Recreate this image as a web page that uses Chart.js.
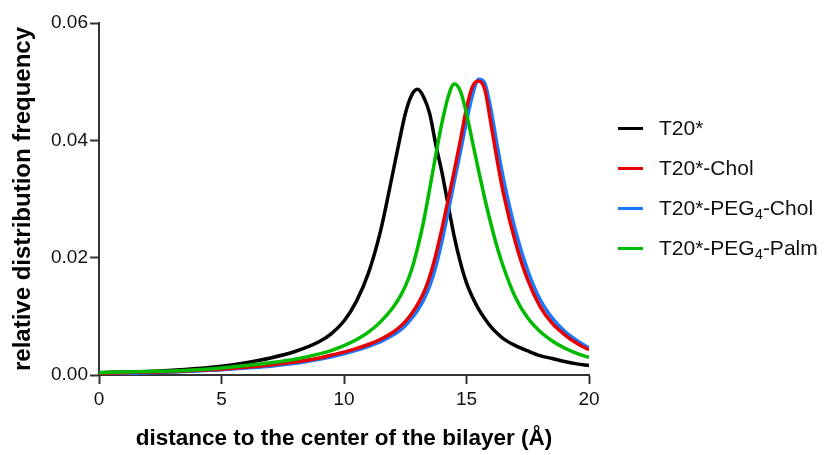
<!DOCTYPE html>
<html>
<head>
<meta charset="utf-8">
<script src="https://cdn.jsdelivr.net/npm/chart.js@4.4.1/dist/chart.umd.min.js"></script>
<style>
    body { margin: 0; background: #fff; }
    #wrap { position: relative; width: 827px; height: 455px; }
    #legend { position: absolute; left: 618px; top: 0; font-family: Arial, "Liberation Sans", sans-serif; font-size: 21px; color: #111; }
    .item { position: absolute; left: 0; height: 24px; white-space: nowrap; }
    .swatch { position: absolute; left: 0; top: 11px; width: 25px; height: 3px; }
    .label { position: absolute; left: 41px; top: 0; line-height: 24px; }
    .label sub { font-size: 0.7em; vertical-align: -0.3em; line-height: 0; }
</style>
</head>
<body>
<div id="wrap">
    <canvas id="chartCanvas" width="827" height="455"></canvas>
    <div id="legend"></div>
</div>
<script>
// distance from bilayer center (Å), shared by all four profiles
const distance = [0, 1, 2, 3, 4, 5, 6, 7, 8, 9, 9.5, 10, 10.5, 11, 11.5, 12,
    12.25, 12.5, 12.75, 13, 13.25, 13.5, 13.75, 14, 14.25, 14.5, 14.75, 15,
    15.25, 15.5, 15.75, 16, 16.25, 16.5, 17, 17.5, 18, 18.5, 19, 19.5, 20];

const t20 = [0.0004, 0.0005, 0.0006, 0.0008, 0.0011, 0.0015, 0.0021, 0.0029, 0.0040, 0.0057,
    0.0071, 0.0092, 0.0125, 0.0174, 0.0247, 0.0346,
    0.0397, 0.0445, 0.0476, 0.0487, 0.0474, 0.0445, 0.0392, 0.0345, 0.0290, 0.0236, 0.0192, 0.0157,
    0.0132, 0.0112, 0.0096, 0.0082, 0.0071, 0.0062, 0.0050, 0.0041, 0.0033, 0.0028, 0.0023, 0.0019, 0.0016];

const t20Chol = [0.0003, 0.0004, 0.0005, 0.0006, 0.0008, 0.0010, 0.0013, 0.0017, 0.0022, 0.0029,
    0.0034, 0.0039, 0.0045, 0.0052, 0.0061, 0.0073,
    0.0081, 0.0091, 0.0104, 0.0120, 0.0140, 0.0168, 0.0205, 0.0250, 0.0298, 0.0348, 0.0400, 0.0455,
    0.0492, 0.0501, 0.0486, 0.0428, 0.0366, 0.0311, 0.0226, 0.0162, 0.0117, 0.0088, 0.0069, 0.0054, 0.0043];

const t20PegChol = [0.0003, 0.0003, 0.0004, 0.0005, 0.0007, 0.0009, 0.0012, 0.0015, 0.0020, 0.0027,
    0.0031, 0.0036, 0.0042, 0.0049, 0.0057, 0.0068,
    0.0075, 0.0084, 0.0096, 0.0110, 0.0128, 0.0152, 0.0185, 0.0228, 0.0278, 0.0330, 0.0380, 0.0432,
    0.0478, 0.0504, 0.0497, 0.0452, 0.0392, 0.0336, 0.0246, 0.0178, 0.0129, 0.0097, 0.0075, 0.0059, 0.0046];

const t20PegPalm = [0.0004, 0.0005, 0.0006, 0.0007, 0.0009, 0.0012, 0.0016, 0.0021, 0.0027, 0.0036,
    0.0042, 0.0050, 0.0060, 0.0073, 0.0091, 0.0115,
    0.0131, 0.0151, 0.0178, 0.0216, 0.0262, 0.0318, 0.0376, 0.0430, 0.0474, 0.0496, 0.0484, 0.0446,
    0.0396, 0.0347, 0.0300, 0.0257, 0.0218, 0.0185, 0.0132, 0.0097, 0.0074, 0.0058, 0.0046, 0.0037, 0.0030];

const seriesNames = ['T20*', 'T20*-Chol', 'T20*-PEG4-Chol', 'T20*-PEG4-Palm'];
const seriesColors = ['#000000', '#e60000', '#1a78ff', '#00bb00'];
const seriesValues = [t20, t20Chol, t20PegChol, t20PegPalm];
// green on top, black at the back
const drawOrder = [3, 1, 2, 0];

const xTicks = [0, 5, 10, 15, 20];
const yTicks = [0, 0.02, 0.04, 0.06];

const fontFamily = 'Arial, "Liberation Sans", sans-serif';
const axisColor = '#333';

const datasets = seriesValues.map((values, i) => ({
    label: seriesNames[i],
    data: distance.map((d, j) => ({ x: d, y: values[j] })),
    borderColor: seriesColors[i],
    borderWidth: 3.5,
    pointRadius: 0,
    fill: false,
    cubicInterpolationMode: 'monotone',
    order: drawOrder[i]
}));

const ctx = document.getElementById('chartCanvas').getContext('2d');

const chart = new Chart(ctx, {
    type: 'line',
    data: { datasets },
    options: {
        responsive: false,
        animation: false,
        devicePixelRatio: 1,
        layout: { padding: { top: 23, right: 238, left: 0, bottom: 0 } },
        plugins: {
            legend: { display: false },
            tooltip: { enabled: false }
        },
        scales: {
            x: {
                type: 'linear',
                min: 0,
                max: 20,
                afterBuildTicks: (scale) => { scale.ticks = xTicks.map(v => ({ value: v })); },
                afterFit: (scale) => { scale.height = 80; },
                border: { color: axisColor, width: 2 },
                grid: { drawOnChartArea: false, tickLength: 9, tickColor: axisColor, tickWidth: 2 },
                ticks: { color: '#111', padding: 4, maxRotation: 0, font: { family: fontFamily, size: 19 } },
                title: {
                    display: true,
                    text: 'distance to the center of the bilayer (Å)',
                    color: '#000',
                    font: { family: fontFamily, size: 22.5, weight: 'bold' },
                    padding: { top: 0, bottom: 3 }
                }
            },
            y: {
                min: 0,
                max: 0.06,
                afterBuildTicks: (scale) => { scale.ticks = yTicks.map(v => ({ value: v })); },
                afterFit: (scale) => { scale.width = 99; },
                border: { color: axisColor, width: 2 },
                grid: { drawOnChartArea: false, tickLength: 9, tickColor: axisColor, tickWidth: 2 },
                ticks: {
                    color: '#111',
                    padding: 2,
                    font: { family: fontFamily, size: 19 },
                    callback: (v) => v.toFixed(2)
                },
                title: {
                    display: true,
                    text: 'relative distribution frequency',
                    color: '#000',
                    font: { family: fontFamily, size: 24, weight: 'bold' },
                    padding: { top: 9, bottom: 0 }
                }
            }
        }
    }
});

// legend: short line swatch + name, PEG4 subscript
const legendEl = document.getElementById('legend');
const legendCenters = [128, 168, 208, 248];
seriesNames.forEach((name, i) => {
    const item = document.createElement('div');
    item.className = 'item';
    item.style.top = (legendCenters[i] - 12) + 'px';
    const swatch = document.createElement('span');
    swatch.className = 'swatch';
    swatch.style.background = seriesColors[i];
    const label = document.createElement('span');
    label.className = 'label';
    label.innerHTML = name.replace('PEG4', 'PEG<sub>4</sub>');
    item.appendChild(swatch);
    item.appendChild(label);
    legendEl.appendChild(item);
});
</script>
</body>
</html>
